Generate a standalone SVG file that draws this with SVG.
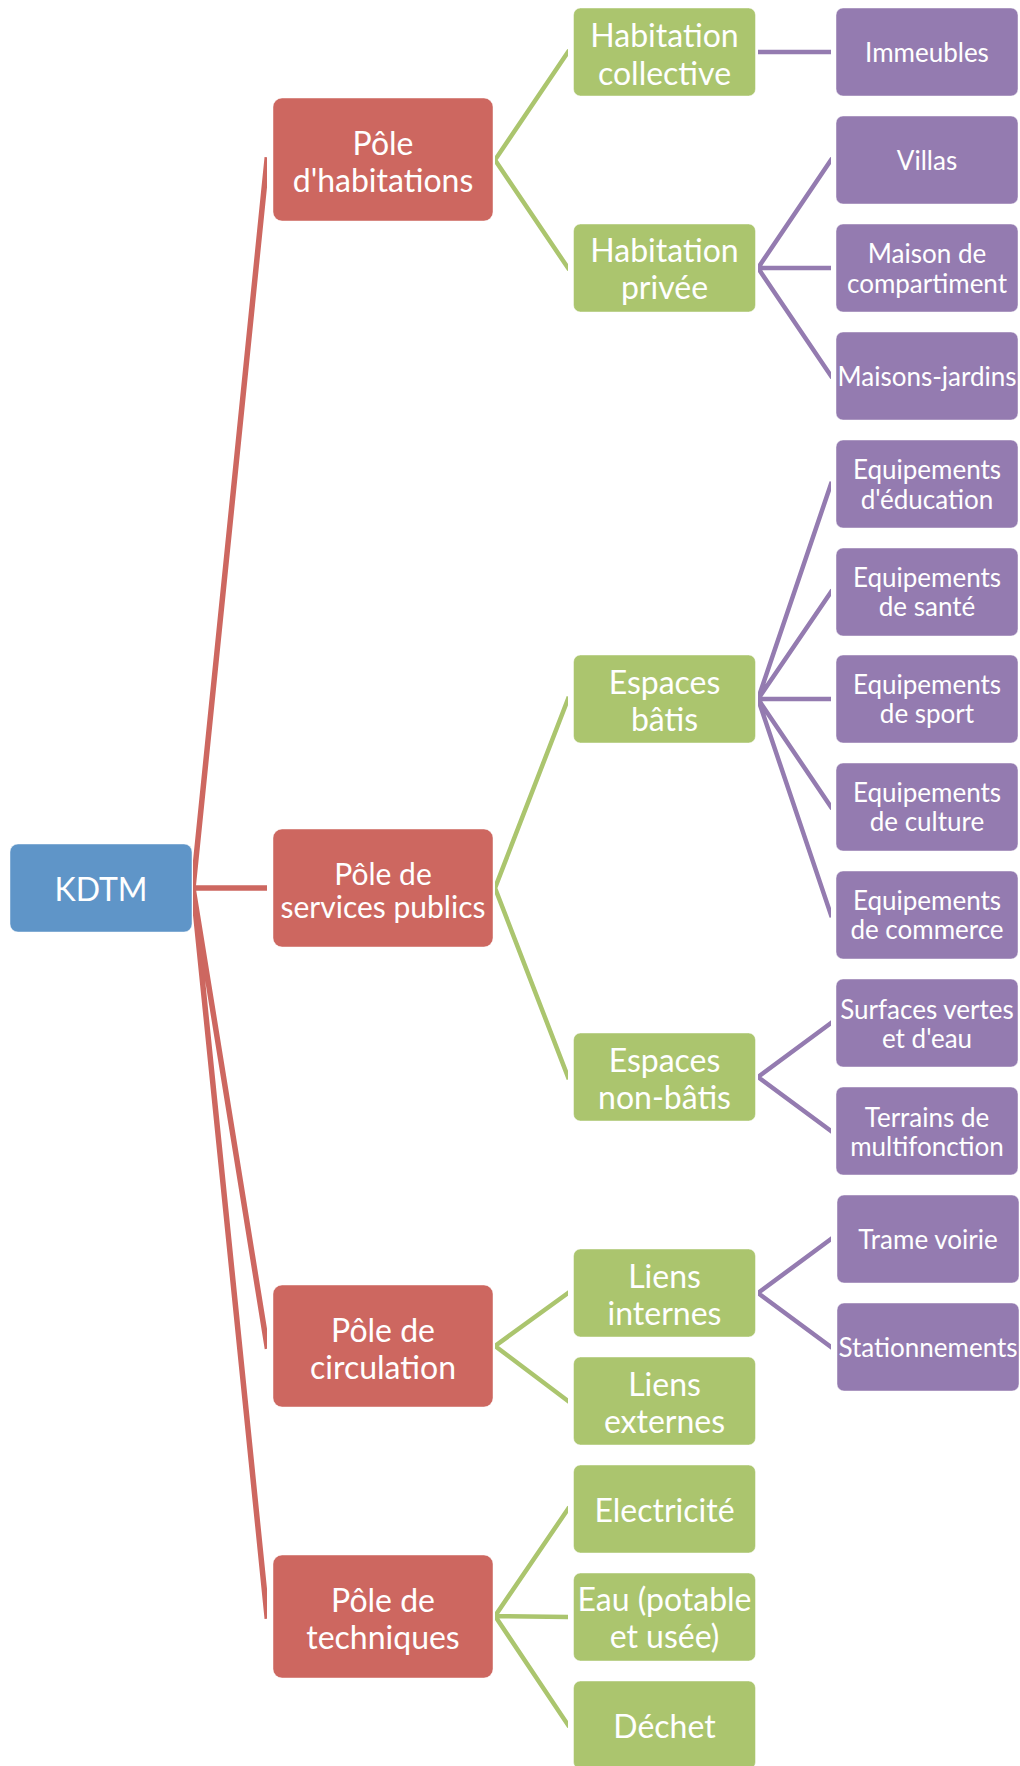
<svg xmlns="http://www.w3.org/2000/svg" width="1020" height="1766" viewBox="0 0 1020 1766">
<style>
  .n rect { stroke: #ffffff; stroke-opacity: 0.45; stroke-width: 1; }
  .root rect { fill: #5F95C8; }
  .l1 rect { fill: #CD6760; }
  .l2 rect { fill: #ABC56E; }
  .l3 rect { fill: #947BB0; }
  text { font-family: Lato, "Open Sans", "Liberation Sans", sans-serif; fill: #ffffff; text-anchor: middle; }
  .big { font-size: 32px; }
  .mid { font-size: 30px; }
  .small { font-size: 26px; }
  .c-red { stroke: #CD6760; stroke-width: 5.5; fill: none; stroke-linecap: square; }
  .c-green { stroke: #ABC56E; stroke-width: 4.5; fill: none; stroke-linecap: square; }
  .c-purple { stroke: #947BB0; stroke-width: 4.5; fill: none; stroke-linecap: square; }
</style>
<defs>
  <clipPath id="cr"><rect x="193" y="0" width="74" height="1766"/></clipPath>
  <clipPath id="cg"><rect x="495" y="0" width="73" height="1766"/></clipPath>
  <clipPath id="cp"><rect x="758" y="0" width="73" height="1766"/></clipPath>
</defs>
<rect x="0" y="0" width="1020" height="1766" fill="#ffffff"/>

<g id="connectors">
  <g clip-path="url(#cr)" class="c-red">
    <path d="M193,888 L267,160 M193,888 L267,888 M193,888 L267,1346 M193,888 L267,1616"/>
  </g>
  <g clip-path="url(#cg)" class="c-green">
    <path d="M495,160 L568,52 M495,160 L568,268"/>
    <path d="M495,888 L568,699 M495,888 L568,1077"/>
    <path d="M495,1346 L568,1293 M495,1346 L568,1401"/>
    <path d="M495,1616 L568,1509 M495,1616 L568,1617 M495,1616 L568,1725"/>
  </g>
  <g clip-path="url(#cp)" class="c-purple">
    <path d="M758,52 L831,52"/>
    <path d="M758,268 L831,160 M758,268 L831,268 M758,268 L831,376"/>
    <path d="M758,699 L831,484 M758,699 L831,592 M758,699 L831,699 M758,699 L831,807 M758,699 L831,915"/>
    <path d="M758,1077 L831,1023 M758,1077 L831,1131"/>
    <path d="M758,1293 L831,1239 M758,1293 L831,1347"/>
  </g>
</g>

<g id="kdtm" class="n root"><rect x="10" y="844" width="182" height="88" rx="8"/><text class="big" x="101" y="900.5">KDTM</text></g>

<g id="pole-habitations" class="n l1"><rect x="273" y="98" width="220" height="123" rx="9"/><text class="big" x="383" y="154.5">Pôle</text><text class="big" x="383" y="192.2">d'habitations</text></g>
<g id="pole-services" class="n l1"><rect x="273" y="829" width="220" height="118" rx="9"/><text class="mid" x="383" y="884.8">Pôle de</text><text class="mid" x="383" y="918.2">services publics</text></g>
<g id="pole-circulation" class="n l1"><rect x="273" y="1285" width="220" height="122" rx="9"/><text class="big" x="383" y="1341.5">Pôle de</text><text class="big" x="383" y="1379.2">circulation</text></g>
<g id="pole-techniques" class="n l1"><rect x="273" y="1555" width="220" height="123" rx="9"/><text class="big" x="383" y="1611.5">Pôle de</text><text class="big" x="383" y="1648.8">techniques</text></g>

<g id="hab-collective" class="n l2"><rect x="573.5" y="8" width="182" height="88" rx="7"/><text class="big" x="664.5" y="46.5">Habitation</text><text class="big" x="664.5" y="84.5">collective</text></g>
<g id="hab-privee" class="n l2"><rect x="573.5" y="224" width="182" height="88" rx="7"/><text class="big" x="664.5" y="261.5">Habitation</text><text class="big" x="664.5" y="298.5">privée</text></g>
<g id="espaces-batis" class="n l2"><rect x="573.5" y="655" width="182" height="88" rx="7"/><text class="big" x="664.5" y="693.5">Espaces</text><text class="big" x="664.5" y="730.5">bâtis</text></g>
<g id="espaces-non-batis" class="n l2"><rect x="573.5" y="1033" width="182" height="88" rx="7"/><text class="big" x="664.5" y="1071.5">Espaces</text><text class="big" x="664.5" y="1109.2">non-bâtis</text></g>
<g id="liens-internes" class="n l2"><rect x="573.5" y="1249" width="182" height="88" rx="7"/><text class="big" x="664.5" y="1287.5">Liens</text><text class="big" x="664.5" y="1324.8">internes</text></g>
<g id="liens-externes" class="n l2"><rect x="573.5" y="1357" width="182" height="88" rx="7"/><text class="big" x="664.5" y="1395.5">Liens</text><text class="big" x="664.5" y="1433">externes</text></g>
<g id="electricite" class="n l2"><rect x="573.5" y="1465" width="182" height="88" rx="7"/><text class="big" x="664.5" y="1521.5">Electricité</text></g>
<g id="eau" class="n l2"><rect x="573.5" y="1573" width="182" height="88" rx="7"/><text class="big" x="664.5" y="1610.8">Eau (potable</text><text class="big" x="664.5" y="1648.2">et usée)</text></g>
<g id="dechet" class="n l2"><rect x="573.5" y="1681" width="182" height="88" rx="7"/><text class="big" x="664.5" y="1737.5">Déchet</text></g>

<g id="immeubles" class="n l3"><rect x="836" y="8" width="182" height="88" rx="7"/><text class="small" x="927" y="62">Immeubles</text></g>
<g id="villas" class="n l3"><rect x="836" y="116" width="182" height="88" rx="7"/><text class="small" x="927" y="170">Villas</text></g>
<g id="maison-compartiment" class="n l3"><rect x="836" y="224" width="182" height="88" rx="7"/><text class="small" x="927" y="263.3">Maison de</text><text class="small" x="927" y="293.3">compartiment</text></g>
<g id="maisons-jardins" class="n l3"><rect x="836" y="332" width="182" height="88" rx="7"/><text class="small" x="927" y="386">Maisons-jardins</text></g>
<g id="equip-education" class="n l3"><rect x="836" y="440" width="182" height="88" rx="7"/><text class="small" x="927" y="479">Equipements</text><text class="small" x="927" y="508.5">d'éducation</text></g>
<g id="equip-sante" class="n l3"><rect x="836" y="548" width="182" height="88" rx="7"/><text class="small" x="927" y="586.7">Equipements</text><text class="small" x="927" y="616">de santé</text></g>
<g id="equip-sport" class="n l3"><rect x="836" y="655" width="182" height="88" rx="7"/><text class="small" x="927" y="694.3">Equipements</text><text class="small" x="927" y="723.3">de sport</text></g>
<g id="equip-culture" class="n l3"><rect x="836" y="763" width="182" height="88" rx="7"/><text class="small" x="927" y="802">Equipements</text><text class="small" x="927" y="831">de culture</text></g>
<g id="equip-commerce" class="n l3"><rect x="836" y="871" width="182" height="88" rx="7"/><text class="small" x="927" y="910">Equipements</text><text class="small" x="927" y="939">de commerce</text></g>
<g id="surfaces-vertes" class="n l3"><rect x="836" y="979" width="182" height="88" rx="7"/><text class="small" x="927" y="1019.3">Surfaces vertes</text><text class="small" x="927" y="1048.3">et d'eau</text></g>
<g id="terrains" class="n l3"><rect x="836" y="1087" width="182" height="88" rx="7"/><text class="small" x="927" y="1127">Terrains de</text><text class="small" x="927" y="1156">multifonction</text></g>
<g id="trame-voirie" class="n l3"><rect x="837" y="1195" width="182" height="88" rx="7"/><text class="small" x="928" y="1249">Trame voirie</text></g>
<g id="stationnements" class="n l3"><rect x="837" y="1303" width="182" height="88" rx="7"/><text class="small" x="928" y="1357">Stationnements</text></g>
</svg>
